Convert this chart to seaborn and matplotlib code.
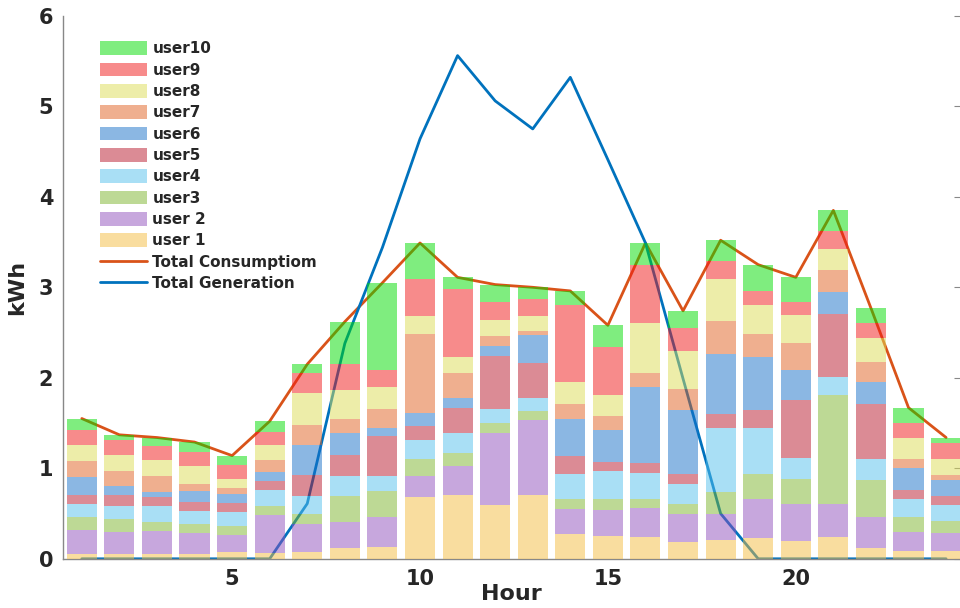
import numpy as np
import pandas as pd
import matplotlib
matplotlib.use("Agg")
import matplotlib.pyplot as plt
import seaborn as sns
from matplotlib.patches import Patch
from matplotlib.lines import Line2D

hours = list(range(1, 25))
user1 = [.05, .05, .05, .05, .07, .06, .08, .12, .13, .68, .70, .59, .70, .27, .25, .24, .19, .21, .23, .20, .24, .12, .09, .09]
user2 = [.27, .25, .26, .24, .19, .42, .30, .29, .33, .24, .33, .80, .83, .28, .29, .32, .31, .29, .43, .41, .37, .34, .21, .19]
user3 = [.14, .14, .10, .09, .10, .10, .12, .28, .29, .18, .14, .11, .10, .11, .12, .10, .11, .24, .28, .27, 1.20, .41, .16, .14]
user4 = [.14, .14, .17, .15, .16, .18, .19, .22, .17, .21, .22, .15, .15, .28, .31, .29, .22, .71, .50, .23, .20, .23, .20, .17]
user5 = [.10, .13, .10, .10, .10, .10, .24, .24, .44, .16, .28, .59, .38, .20, .10, .11, .11, .15, .20, .64, .70, .61, .10, .10]
user6 = [.20, .09, .06, .12, .10, .10, .33, .24, .08, .14, .11, .11, .31, .41, .35, .84, .70, .66, .59, .34, .24, .24, .24, .18]
user7 = [.18, .17, .17, .08, .06, .13, .22, .16, .21, .87, .27, .11, .05, .16, .16, .15, .24, .37, .25, .30, .24, .22, .10, .06]
user8 = [.18, .18, .18, .20, .10, .17, .35, .32, .25, .20, .18, .18, .16, .24, .23, .56, .42, .46, .32, .30, .23, .27, .23, .17]
user9 = [.16, .16, .16, .15, .16, .14, .22, .28, .19, .41, .75, .20, .19, .85, .53, .64, .25, .20, .16, .15, .20, .16, .17, .18]
user10 = [.13, .06, .09, .11, .10, .12, .10, .47, .96, .40, .13, .19, .13, .16, .24, .24, .19, .23, .29, .27, .23, .17, .17, .06]
generation = [0, 0, 0, 0, 0, 0, 0.61, 2.38, 3.44, 4.64, 5.56, 5.06, 4.75, 5.32, 4.41, 3.49, 1.99, 0.50, 0, 0, 0, 0, 0, 0]

user_names = ["user 1", "user 2", "user3", "user4", "user5", "user6", "user7", "user8", "user9", "user10"]
user_values = [user1, user2, user3, user4, user5, user6, user7, user8, user9, user10]
user_colors = ["#F5BD41", "#9151BD", "#7DB52D", "#55C1ED", "#B9192D",
               "#1971C9", "#E16121", "#DDDD55", "#F11919", "#01DD01"]

consumption = list(np.sum(np.array(user_values), axis=0))

rows = []
for name, vals in zip(user_names, user_values):
    for h, v in zip(hours, vals):
        rows.append({"hour": h, "user": name, "kwh": v})
df = pd.DataFrame(rows)
lines_df = pd.DataFrame({"hour": hours, "cons": consumption, "gen": generation})

sns.set_style("white")
plt.rcParams["font.family"] = ["DejaVu Sans"]

fig = plt.figure(figsize=(9.6, 6.08), dpi=100)
ax = fig.add_axes([63 / 960, (608 - 558.8) / 608, (960 - 63) / 960, 543 / 608])

cons_color = "#D95319"
gen_color = "#0072BD"
sns.lineplot(data=lines_df, x="hour", y="cons", color=cons_color, linewidth=2.0, ax=ax, zorder=1)
sns.lineplot(data=lines_df, x="hour", y="gen", color=gen_color, linewidth=2.0, ax=ax, zorder=1)

palette = dict(zip(user_names, user_colors))
sns.histplot(data=df, x="hour", weights="kwh", hue="user", hue_order=user_names[::-1],
             multiple="stack", discrete=True, shrink=0.8, palette=palette,
             alpha=0.5, linewidth=0, legend=False, ax=ax, zorder=3)

ax.set_xlim(0.5, 24.37)
ax.set_ylim(0, 6)
ax.set_xticks([5, 10, 15, 20])
ax.set_yticks([0, 1, 2, 3, 4, 5, 6])
ax.tick_params(axis="both", direction="in", length=4, color="#888888",
               labelsize=15, pad=7, right=True)
for lbl in ax.get_xticklabels() + ax.get_yticklabels():
    lbl.set_fontweight("bold")
ax.set_xlabel("Hour", fontsize=16, fontweight="bold", labelpad=-3)
ax.set_ylabel("kWh", fontsize=16, fontweight="bold", labelpad=8)
for s in ["top", "right"]:
    ax.spines[s].set_visible(False)
for s in ["left", "bottom"]:
    ax.spines[s].set_color("#888888")
    ax.spines[s].set_linewidth(1.0)

handles = [Patch(facecolor=palette[n], alpha=0.5, edgecolor="none") for n in user_names[::-1]]
handles += [Line2D([0], [0], color=cons_color, linewidth=2.0),
            Line2D([0], [0], color=gen_color, linewidth=2.0)]
labels = user_names[::-1] + ["Total Consumptiom", "Total Generation"]
ax.legend(handles, labels, loc="upper left", bbox_to_anchor=(0.041, 0.953),
          frameon=False, prop={"weight": "bold", "size": 11}, borderpad=0,
          borderaxespad=0, handlelength=3.1, handleheight=1.0,
          labelspacing=0.41, handletextpad=0.35)

fig.savefig("out.png", dpi=100)
